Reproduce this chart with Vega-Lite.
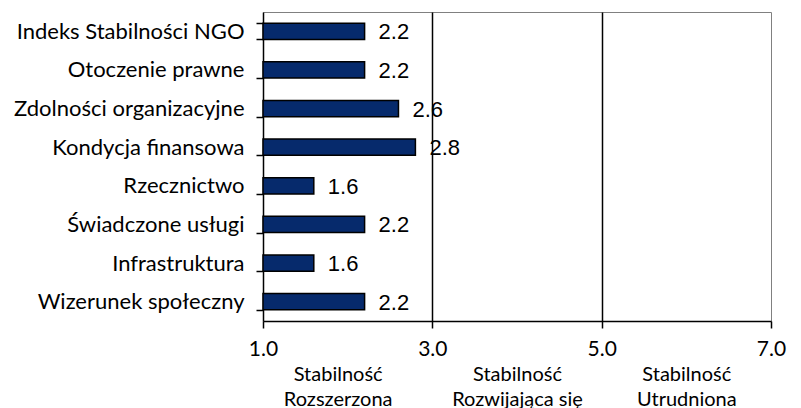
{
  "$schema": "https://vega.github.io/schema/vega-lite/v6.json",
  "width": 508,
  "height": 309,
  "autosize": {"type": "none"},
  "padding": {"left": 263, "top": 12, "right": 30, "bottom": 87},
  "background": "white",
  "config": {
    "view": {"stroke": "#808080", "strokeWidth": 1}
  },
  "data": {
    "values": [
      {"kategoria": "Indeks Stabilności NGO", "wartosc": 2.2},
      {"kategoria": "Otoczenie prawne", "wartosc": 2.2},
      {"kategoria": "Zdolności organizacyjne", "wartosc": 2.6},
      {"kategoria": "Kondycja finansowa", "wartosc": 2.8},
      {"kategoria": "Rzecznictwo", "wartosc": 1.6},
      {"kategoria": "Świadczone usługi", "wartosc": 2.2},
      {"kategoria": "Infrastruktura", "wartosc": 1.6},
      {"kategoria": "Wizerunek społeczny", "wartosc": 2.2}
    ]
  },
  "encoding": {
    "y": {
      "field": "kategoria",
      "type": "nominal",
      "sort": null,
      "scale": {"paddingInner": 0.58, "paddingOuter": 0.29},
      "axis": {
        "title": null,
        "domainColor": "black",
        "domainWidth": 1.5,
        "tickBand": "extent",
        "tickColor": "black",
        "tickWidth": 1.5,
        "tickSize": 7,
        "labelPadding": 12,
        "labelFont": "Lato",
        "labelFontSize": 22,
        "labelColor": "black",
        "labelLimit": 300
      }
    }
  },
  "resolve": {"axis": {"x": "independent"}},
  "layer": [
    {
      "mark": {"type": "bar", "fill": "#062A6C", "stroke": "black", "strokeWidth": 1.5},
      "encoding": {
        "x": {
          "field": "wartosc",
          "type": "quantitative",
          "scale": {"domain": [1, 7], "nice": false, "zero": false},
          "axis": {
            "title": null,
            "orient": "bottom",
            "values": [1, 3, 5, 7],
            "format": ".1f",
            "domainColor": "black",
            "domainWidth": 1.5,
            "grid": true,
            "gridColor": {"condition": {"test": "datum.value == 3 || datum.value == 5", "value": "black"}, "value": "transparent"},
            "gridWidth": 1.5,
            "tickColor": "black",
            "tickWidth": 1.5,
            "tickSize": 7,
            "labelFlush": false,
            "labelOverlap": false,
            "labelColor": "black",
            "labelFont": "Lato",
            "labelFontSize": 21,
            "labelPadding": 10
          }
        },
        "x2": {"datum": 1}
      }
    },
    {
      "mark": {"type": "text", "align": "left", "baseline": "middle", "dx": 14, "dy": 1, "font": "Liberation Sans", "fontSize": 22, "color": "black"},
      "encoding": {
        "x": {
          "field": "wartosc",
          "type": "quantitative",
          "axis": {
            "title": null,
            "orient": "bottom",
            "values": [2, 4, 6],
            "domain": false,
            "ticks": false,
            "tickSize": 0,
            "grid": false,
            "labelFlush": false,
            "labelOverlap": false,
            "labelColor": "black",
            "labelFont": "Lato",
            "labelFontSize": 20,
            "labelLineHeight": 25,
            "labelPadding": 43,
            "labelOffset": {"condition": {"test": "datum.value == 2", "value": -10}, "value": 0},
            "labelExpr": "datum.value == 2 ? ['Stabilność', 'Rozszerzona'] : (datum.value == 4 ? ['Stabilność', 'Rozwijająca się'] : ['Stabilność', 'Utrudniona'])"
          }
        },
        "text": {"field": "wartosc", "type": "quantitative", "format": ".1f"}
      }
    }
  ]
}
